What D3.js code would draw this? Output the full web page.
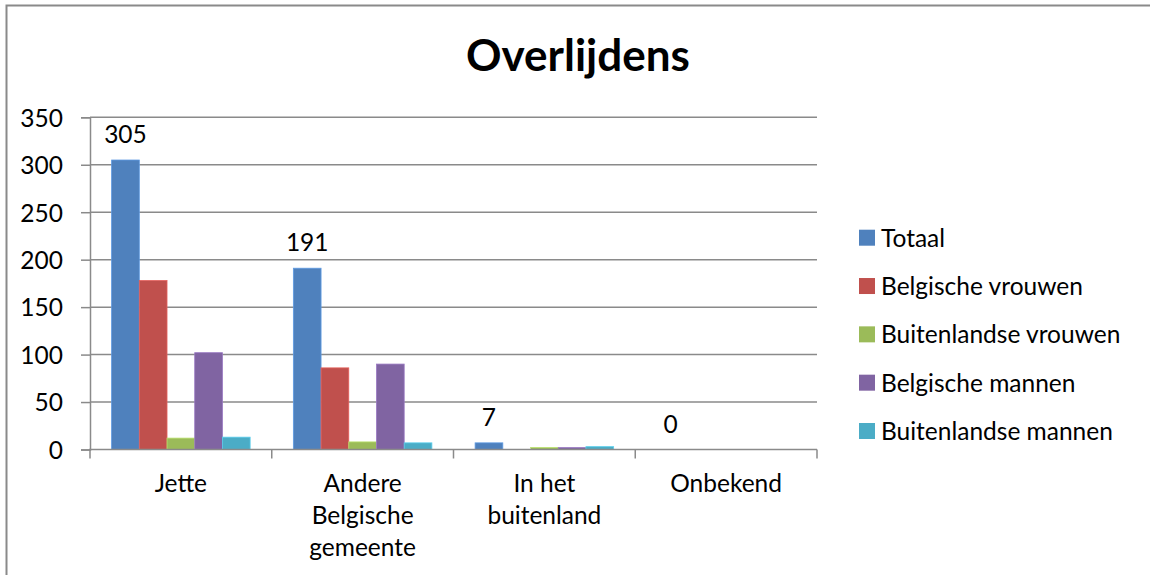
<!DOCTYPE html>
<html>
<head>
<meta charset="utf-8">
<script src="https://cdn.jsdelivr.net/npm/d3@7"></script>
<style>
  html, body { margin: 0; padding: 0; background: #fff; }
  svg { display: block; }
  text { font-family: Lato, "Open Sans", sans-serif; fill: #000; }
</style>
</head>
<body>
<svg id="chart" width="1150" height="575"></svg>
<script>
// Deaths by place, split by nationality and sex
const categories = [["Jette"], ["Andere", "Belgische", "gemeente"], ["In het", "buitenland"], ["Onbekend"]];
const seriesNames = ["Totaal", "Belgische vrouwen", "Buitenlandse vrouwen", "Belgische mannen", "Buitenlandse mannen"];
const totaal = [305, 191, 7, 0];
const belgischeVrouwen = [178, 86, 0, 0];
const buitenlandseVrouwen = [12, 8, 2, 0];
const belgischeMannen = [102, 90, 2, 0];
const buitenlandseMannen = [13, 7, 3, 0];
const yTicks = [0, 50, 100, 150, 200, 250, 300, 350];
const colors = ["#4F81BD", "#C0504D", "#9BBB59", "#8064A2", "#4BACC6"];

const seriesValues = [totaal, belgischeVrouwen, buitenlandseVrouwen, belgischeMannen, buitenlandseMannen];
const catKeys = categories.map(c => c.join(" "));

const svg = d3.select("#chart");
const gridColor = "#8a8a8a";
const fontSize = 24.5;

// outer chart frame (runs off the right and bottom edges)
svg.append("rect")
  .attr("x", 6.5).attr("y", 5.5)
  .attr("width", 1200).attr("height", 700)
  .attr("fill", "none").attr("stroke", gridColor).attr("stroke-width", 2);

// title
svg.append("text")
  .attr("x", 578).attr("y", 71)
  .attr("text-anchor", "middle")
  .attr("font-size", 44).attr("font-weight", "bold")
  .text("Overlijdens");

const plot = { left: 90, right: 817, top: 117.3, bottom: 449.5 };

const x = d3.scaleBand().domain(catKeys).range([plot.left, plot.right]).paddingInner(0).paddingOuter(0);
const xs = d3.scaleBand().domain(seriesNames).range([0, x.bandwidth()]).paddingInner(0).paddingOuter(0.78);
const y = d3.scaleLinear().domain([0, 350]).range([plot.bottom, plot.top]);

// horizontal gridlines
svg.append("g").selectAll("line").data(yTicks.filter(t => t > 0)).join("line")
  .attr("x1", plot.left).attr("x2", plot.right)
  .attr("y1", d => y(d)).attr("y2", d => y(d))
  .attr("stroke", gridColor).attr("stroke-width", 1.5);

// y axis
const yAxis = svg.append("g")
  .attr("transform", `translate(${plot.left},0)`)
  .call(d3.axisLeft(y).tickValues(yTicks).tickSize(9).tickPadding(18).tickFormat(d3.format("d")));
yAxis.select(".domain").attr("stroke", gridColor).attr("stroke-width", 1.5);
yAxis.selectAll(".tick line").attr("stroke", gridColor).attr("stroke-width", 1.5);
yAxis.selectAll(".tick text")
  .attr("font-size", fontSize).attr("fill", "#000")
  .style("font-family", "Lato, 'Open Sans', sans-serif")
  .attr("dy", "0.36em");

// bars
const groups = svg.append("g").selectAll("g").data(catKeys).join("g")
  .attr("transform", d => `translate(${x(d)},0)`);
groups.selectAll("rect")
  .data((d, i) => seriesNames.map((s, j) => ({ s, j, v: seriesValues[j][i] })))
  .join("rect")
  .attr("x", d => xs(d.s))
  .attr("width", xs.bandwidth())
  .attr("y", d => y(d.v))
  .attr("height", d => y(0) - y(d.v))
  .attr("fill", d => colors[d.j])
  .attr("stroke", d => d.v > 0 ? d3.color(colors[d.j]).brighter(0.5) : "none")
  .attr("stroke-width", 0.8);

// value labels on the Totaal bars
groups.append("text")
  .attr("x", (d, i) => xs(seriesNames[0]) + xs.bandwidth() / 2)
  .attr("y", (d, i) => y(totaal[i]) - 17)
  .attr("text-anchor", "middle")
  .attr("font-size", fontSize)
  .text((d, i) => totaal[i]);

// x axis
const xAxis = svg.append("g").attr("transform", `translate(0,${plot.bottom})`);
xAxis.append("line")
  .attr("x1", plot.left - 1).attr("x2", plot.right)
  .attr("stroke", gridColor).attr("stroke-width", 1.5);
const bounds = catKeys.map(k => x(k)).concat([plot.right]);
xAxis.selectAll("line.tick").data(bounds).join("line").attr("class", "tick")
  .attr("x1", d => d).attr("x2", d => d)
  .attr("y1", 0).attr("y2", 9)
  .attr("stroke", gridColor).attr("stroke-width", 1.5);
const catLabels = xAxis.selectAll("text").data(categories).join("text")
  .attr("text-anchor", "middle")
  .attr("font-size", fontSize)
  .attr("transform", (d, i) => `translate(${x(catKeys[i]) + x.bandwidth() / 2},0)`);
catLabels.selectAll("tspan").data(d => d).join("tspan")
  .attr("x", 0)
  .attr("y", (d, i) => 42 + i * 32)
  .text(d => d);

// legend
const legend = svg.append("g").attr("transform", "translate(859,0)");
const legendY = d3.scalePoint().domain(seriesNames).range([237.7, 431]);
const items = legend.selectAll("g").data(seriesNames).join("g")
  .attr("transform", d => `translate(0,${legendY(d)})`);
items.append("rect")
  .attr("x", 0).attr("y", -8).attr("width", 16).attr("height", 16)
  .attr("fill", (d, i) => colors[i]);
items.append("text")
  .attr("x", 22).attr("y", 0).attr("dy", "0.36em")
  .attr("font-size", fontSize)
  .text(d => d);
</script>
</body>
</html>
